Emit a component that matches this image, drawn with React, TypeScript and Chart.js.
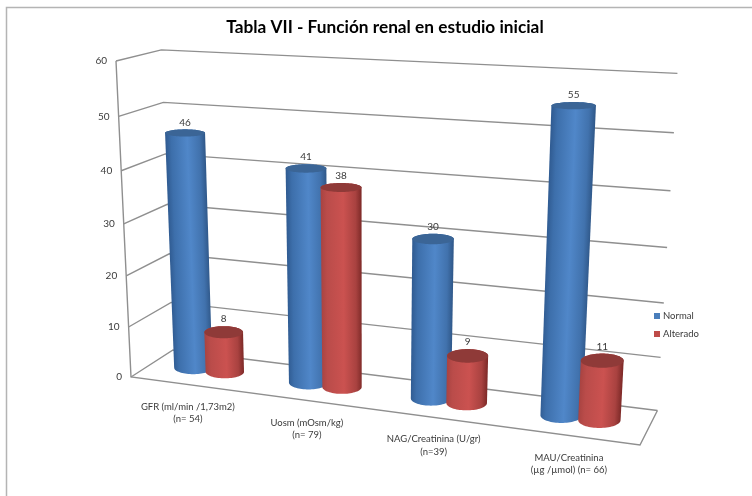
import React, { useEffect, useRef } from "react";
import { Chart, registerables } from "chart.js";

Chart.register(...registerables);

const categories = [
  ["GFR (ml/min /1,73m2)", "(n= 54)"],
  ["Uosm (mOsm/kg)", "(n= 79)"],
  ["NAG/Creatinina (U/gr)", "(n=39)"],
  ["MAU/Creatinina", "(µg /µmol) (n= 66)"],
];
const normalValues = [46, 41, 30, 55];
const alteradoValues = [8, 38, 9, 11];
const chartTitle = "Tabla VII - Función renal en estudio inicial";
const FONT = "Lato, 'Open Sans', sans-serif";
const TEXT = "#3a3a3a";
const WALL = "#8f8f8f";

type P = [number, number];
type Stop = [number, string];

// Side shading of each cylinder, from its left silhouette to its right one.
const blueShade: Stop[] = [[0, "#2f5a90"], [0.15, "#3d6fab"], [0.55, "#5087c9"], [0.85, "#4172ad"], [1, "#2f5788"]];
const redShade: Stop[] = [[0, "#a84341"], [0.15, "#ba4c4a"], [0.55, "#cb5250"], [0.85, "#a94240"], [1, "#7c2927"]];
const capColors = ["#3b6596", "#8f3a38"];

// Projective camera of the 3D box: u runs along the categories, v into the depth, w up the value axis.
const origin: P = [131, 377];
const alongU: P = [432.2, 14.6];
const alongV: P = [51.5, -7.75];
const alongW: P = [-21.96, -319.66];
const depthU = -0.12;
const depthV = 0.055;
const depthW = -0.06;
const BAR_DEPTH = 0.52;

function project(u: number, v: number, w: number): P {
  const h = 1 + depthU * u + depthV * v + depthW * w;
  return [
    (origin[0] + alongU[0] * u + alongV[0] * v + alongW[0] * w) / h,
    (origin[1] + alongU[1] * u + alongV[1] * v + alongW[1] * w) / h,
  ];
}

function polyline(ctx: CanvasRenderingContext2D, pts: P[], close = false) {
  ctx.beginPath();
  pts.forEach((p, i) => (i ? ctx.lineTo(p[0], p[1]) : ctx.moveTo(p[0], p[1])));
  if (close) ctx.closePath();
}

const RADIUS_SCALE = 1.08;
const RADIUS_DEPTH = 0.22;
const SEGMENTS = 72;

// End face of a cylinder: the projected circle, levelled to an upright ellipse around its centre.
function endFace(u: number, ru: number, w: number) {
  const raw: P[] = [];
  for (let i = 0; i < SEGMENTS; i++) {
    const t = (i / SEGMENTS) * Math.PI * 2;
    raw.push(project(u + ru * Math.cos(t), BAR_DEPTH + RADIUS_DEPTH * Math.sin(t), w));
  }
  const xs = raw.map((p) => p[0]);
  const ys = raw.map((p) => p[1]);
  const c = project(u, BAR_DEPTH, w);
  const rx = (Math.max(...xs) - Math.min(...xs)) / 2;
  const ry = (Math.max(...ys) - Math.min(...ys)) / 2;
  const pts = raw.map((_, i) => {
    const t = (i / SEGMENTS) * Math.PI * 2;
    return [c[0] + rx * Math.cos(t), c[1] + ry * Math.sin(t)] as P;
  });
  return { pts, c, rx, ry };
}

function drawCylinder(ctx: CanvasRenderingContext2D, u: number, ru: number, w: number, stops: Stop[], cap: string) {
  const top = endFace(u, ru, w);
  const bottom = endFace(u, ru, 0);
  // The shading runs across the cylinder, square to its slightly leaning axis.
  const ax = top.c[0] - bottom.c[0];
  const ay = top.c[1] - bottom.c[1];
  const len = Math.hypot(ax, ay) || 1;
  const nx = -ay / len;
  const ny = ax / len;
  const mid: P = [(top.c[0] + bottom.c[0]) / 2, (top.c[1] + bottom.c[1]) / 2];
  const sign = nx >= 0 ? 1 : -1;
  const grad = ctx.createLinearGradient(
    mid[0] - sign * nx * top.rx,
    mid[1] - sign * ny * top.rx,
    mid[0] + sign * nx * top.rx,
    mid[1] + sign * ny * top.rx,
  );
  stops.forEach(([s, c]) => grad.addColorStop(s, c));
  ctx.fillStyle = grad;
  const half = SEGMENTS / 2;
  polyline(ctx, [...bottom.pts.slice(0, half + 1), ...top.pts.slice(half), top.pts[0]], true);
  ctx.fill();
  ctx.fillStyle = cap;
  polyline(ctx, top.pts, true);
  ctx.fill();
}

const boxPlugin = {
  id: "box3d",
  beforeDatasetDraw() {
    return false;
  },
  beforeDatasetsDraw(chart: any) {
    const ctx: CanvasRenderingContext2D = chart.ctx;
    const yScale = chart.scales.y;
    const area = chart.chartArea;
    ctx.save();

    // Outer frame: only its left and top sides fall on the canvas.
    ctx.strokeStyle = "#b4b4b4";
    ctx.lineWidth = 1.5;
    polyline(ctx, [[6.5, chart.height], [6.5, 7.5], [chart.width, 7.5]]);
    ctx.stroke();

    ctx.strokeStyle = WALL;
    ctx.lineWidth = 1.4;
    ctx.lineJoin = "miter";
    yScale.ticks.forEach((tick: any) => {
      const w = (area.bottom - yScale.getPixelForValue(tick.value)) / area.height;
      polyline(ctx, [project(0, 0, w), project(0, 1, w), project(1, 1, w)]);
      ctx.stroke();
    });
    polyline(ctx, [project(0, 0, 1), project(0, 0, 0), project(1, 0, 0), project(1, 1, 0)]);
    ctx.stroke();

    ctx.fillStyle = TEXT;
    ctx.font = `10px ${FONT}`;
    ctx.textAlign = "right";
    ctx.textBaseline = "middle";
    yScale.ticks.forEach((tick: any) => {
      const w = (area.bottom - yScale.getPixelForValue(tick.value)) / area.height;
      const p = project(0, 0, w);
      ctx.fillText(String(tick.value), p[0] - 9, p[1]);
    });

    const xScale = chart.scales.x;
    ctx.textAlign = "center";
    ctx.font = `9.5px ${FONT}`;
    categories.forEach((lines, i) => {
      const u = (xScale.getPixelForValue(i) - area.left) / area.width;
      const p = project(u, 0, 0);
      lines.forEach((line, k) => ctx.fillText(line, p[0], p[1] + 22 + k * 12.6));
    });
    ctx.restore();
  },
  afterDatasetsDraw(chart: any) {
    const ctx: CanvasRenderingContext2D = chart.ctx;
    const area = chart.chartArea;
    const metas = chart.data.datasets.map((_: any, i: number) => chart.getDatasetMeta(i));
    const shades = [blueShade, redShade];
    const marks: { u: number; ru: number; w: number; ds: number; value: number }[] = [];
    metas.forEach((meta: any, ds: number) => {
      meta.data.forEach((bar: any, i: number) => {
        const { x, y, width } = bar.getProps(["x", "y", "width"]);
        marks.push({
          u: (x - area.left) / area.width,
          ru: ((width / area.width) * RADIUS_SCALE) / 2,
          w: (area.bottom - y) / area.height,
          ds,
          value: chart.data.datasets[ds].data[i],
        });
      });
    });
    // Painter's order: the right side of the box is nearest the viewer.
    marks.sort((a, b) => a.u - b.u);
    ctx.save();
    marks.forEach((m) => drawCylinder(ctx, m.u, m.ru, m.w, shades[m.ds], capColors[m.ds]));

    ctx.fillStyle = TEXT;
    ctx.font = `10px ${FONT}`;
    ctx.textAlign = "center";
    ctx.textBaseline = "middle";
    marks.forEach((m) => {
      const face = endFace(m.u, m.ru, m.w);
      ctx.fillText(String(m.value), face.c[0], face.c[1] - face.ry - 7);
    });

    // Legend keys, taken from the datasets.
    ctx.font = `9.5px ${FONT}`;
    ctx.textAlign = "left";
    chart.data.datasets.forEach((set: any, i: number) => {
      const y = 316 + i * 18;
      ctx.fillStyle = set.backgroundColor;
      ctx.fillRect(654, y - 3, 6, 6);
      ctx.fillStyle = TEXT;
      ctx.fillText(set.label, 663, y);
    });
    ctx.restore();
  },
};

export default function App() {
  const ref = useRef<HTMLCanvasElement>(null);
  useEffect(() => {
    const chart = new Chart(ref.current!, {
      type: "bar",
      data: {
        labels: categories,
        datasets: [
          { label: "Normal", data: normalValues, backgroundColor: "#4a7ebb", categoryPercentage: 0.56, barPercentage: 1 },
          { label: "Alterado", data: alteradoValues, backgroundColor: "#be4b48", categoryPercentage: 0.56, barPercentage: 1 },
        ],
      },
      options: {
        responsive: false,
        animation: false,
        layout: { padding: { left: 18, right: 0, top: 10, bottom: 0 } },
        scales: {
          x: { display: false, grid: { display: false } },
          y: { display: false, min: 0, max: 60, ticks: { stepSize: 10 }, grid: { display: false } },
        },
        plugins: {
          legend: { display: false },
          tooltip: { enabled: false },
          title: {
            display: true,
            text: chartTitle,
            color: "#000000",
            font: { family: FONT, size: 17.25, weight: "bold" },
            padding: { top: 7, bottom: 10 },
          },
        },
      } as any,
      plugins: [boxPlugin as any],
    });
    return () => chart.destroy();
  }, []);
  return (
    <div style={{ position: "absolute", left: 0, top: 0, background: "#ffffff" }}>
      <canvas ref={ref} width={752} height={496} style={{ display: "block" }} />
    </div>
  );
}
